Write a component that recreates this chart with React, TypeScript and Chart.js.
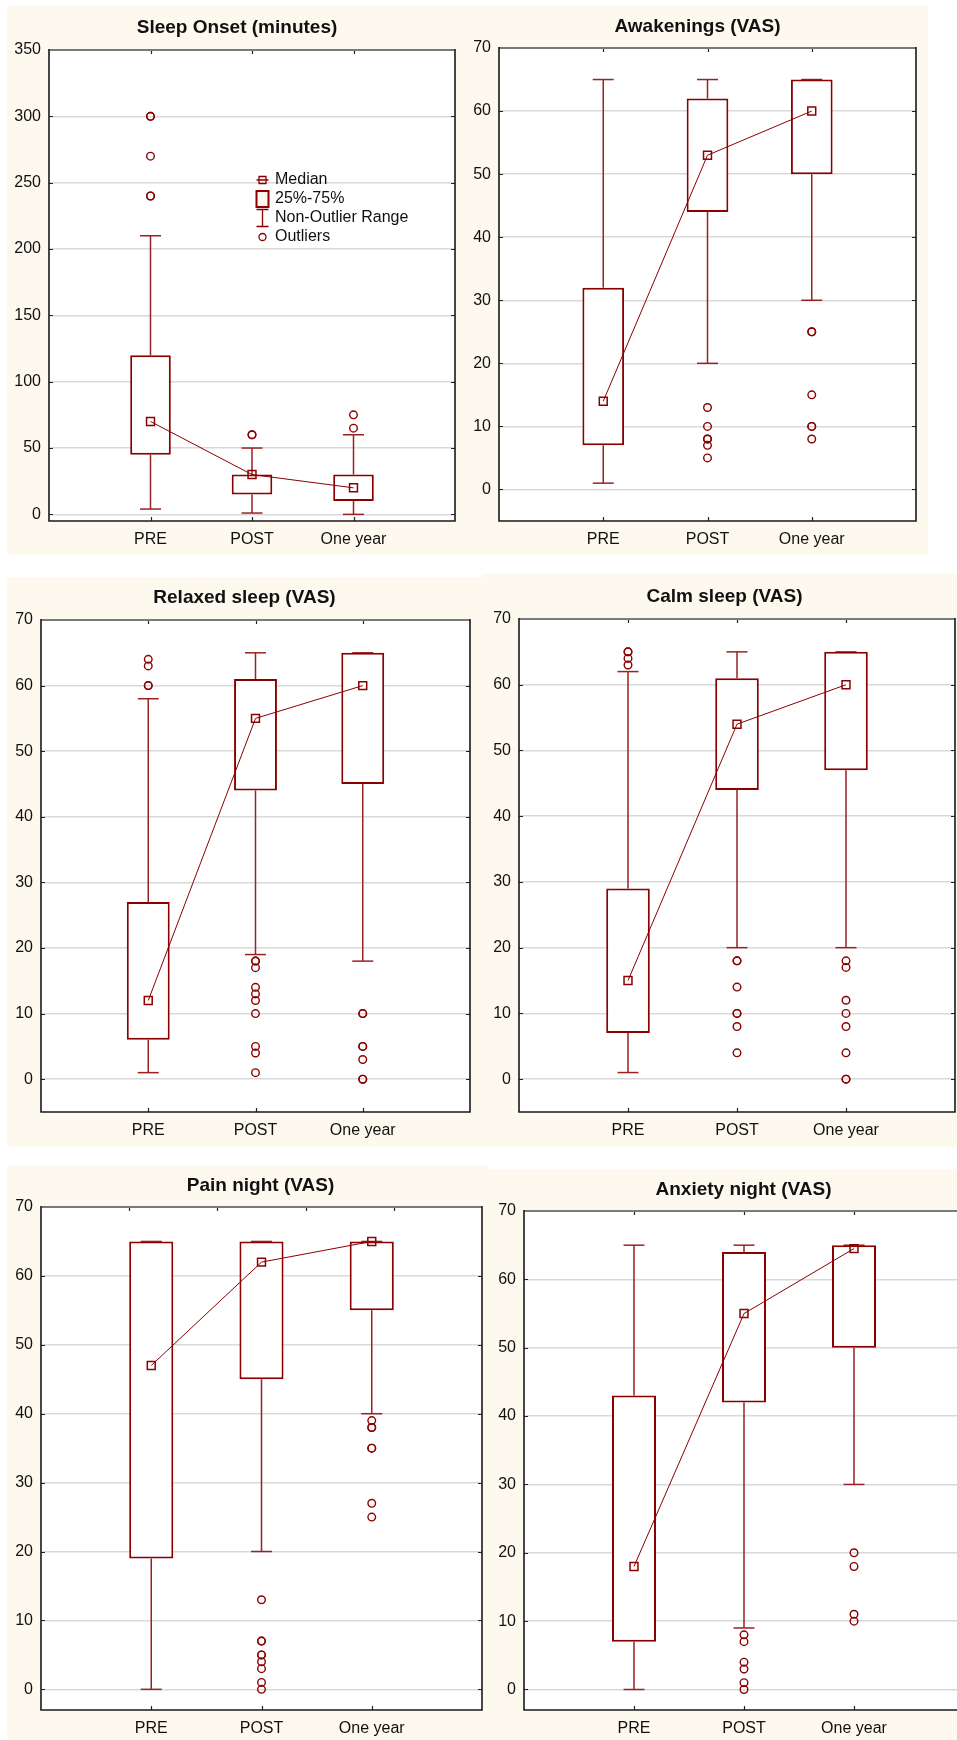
import React, { useEffect, useRef } from 'react';
import { Chart, registerables } from 'chart.js';

Chart.register(...registerables);

const FONT = "'Liberation Sans', Arial, Helvetica, sans-serif";
const DARK_RED = '#8b0000';
const WHISKER = '#9b2222';
const BEIGE = '#fef9ee';

// ---------- data ----------
const categories = ['PRE', 'POST', 'One year'];
const legendLabels = ['Median', '25%-75%', 'Non-Outlier Range', 'Outliers'];

const onsetTicks = [0, 50, 100, 150, 200, 250, 300, 350];
const vasTicks = [0, 10, 20, 30, 40, 50, 60, 70];

// Sleep Onset (minutes)
const onsetLow = [4, 1, 0];
const onsetQ1 = [45, 15, 10];
const onsetMedian = [70, 30, 20];
const onsetQ3 = [120, 30, 30];
const onsetHigh = [210, 50, 60];
const onsetOutliers = [[300, 300, 270, 240, 240], [60, 60], [75, 65]];

// Awakenings (VAS)
const awakeLow = [1, 20, 30];
const awakeQ1 = [7, 44, 50];
const awakeMedian = [14, 53, 60];
const awakeQ3 = [32, 62, 65];
const awakeHigh = [65, 65, 65];
const awakeOutliers = [[], [13, 10, 8, 8, 7, 5], [25, 25, 15, 10, 10, 8]];

// Relaxed sleep (VAS)
const relaxLow = [1, 19, 18];
const relaxQ1 = [6, 44, 45];
const relaxMedian = [12, 55, 60];
const relaxQ3 = [27, 61, 65];
const relaxHigh = [58, 65, 65];
const relaxOutliers = [[64, 63, 60, 60], [18, 18, 17, 14, 13, 12, 10, 5, 4, 1], [10, 10, 5, 5, 3, 0, 0]];

// Calm sleep (VAS)
const calmLow = [1, 20, 20];
const calmQ1 = [7, 44, 47];
const calmMedian = [15, 54, 60];
const calmQ3 = [29, 61, 65];
const calmHigh = [62, 65, 65];
const calmOutliers = [[65, 65, 64, 63], [18, 18, 14, 10, 10, 8, 4], [18, 17, 12, 10, 8, 4, 0, 0]];

// Pain night (VAS)
const painLow = [0, 20, 40];
const painQ1 = [19, 45, 55];
const painMedian = [47, 62, 65];
const painQ3 = [65, 65, 65];
const painHigh = [65, 65, 65];
const painOutliers = [[], [13, 7, 7, 5, 5, 4, 3, 1, 0], [39, 38, 38, 35, 35, 27, 25]];

// Anxiety night (VAS)
const anxLow = [0, 9, 30];
const anxQ1 = [7, 42, 50];
const anxMedian = [18, 55, 64.5];
const anxQ3 = [43, 64, 65];
const anxHigh = [65, 65, 65];
const anxOutliers = [[], [8, 7, 4, 3, 1, 0], [20, 18, 11, 10]];

// ---------- panel layout ----------
type Panel = {
  title: string;
  lo: number[]; q1: number[]; med: number[]; q3: number[]; hi: number[]; out: number[][];
  yMin: number; yMax: number; yTicks: number[];
  frame: { left: number; top: number; width: number; height: number; beigeWidth?: number };
  area: { left: number; top: number; right: number; bottom: number };
  titleY: number;
  legend?: boolean;
  topTicks?: number[];
};

const panels: Panel[] = [
  {
    title: 'Sleep Onset (minutes)', lo: onsetLow, q1: onsetQ1, med: onsetMedian, q3: onsetQ3, hi: onsetHigh, out: onsetOutliers,
    yMin: -5, yMax: 350, yTicks: onsetTicks,
    frame: { left: 7, top: 6, width: 460, height: 549 },
    area: { left: 42, top: 44, right: 451, bottom: 515 }, titleY: 22, legend: true,
  },
  {
    title: 'Awakenings (VAS)', lo: awakeLow, q1: awakeQ1, med: awakeMedian, q3: awakeQ3, hi: awakeHigh, out: awakeOutliers,
    yMin: -5, yMax: 70, yTicks: vasTicks,
    frame: { left: 467, top: 5, width: 461, height: 550 },
    area: { left: 32, top: 43, right: 454, bottom: 516 }, titleY: 22,
  },
  {
    title: 'Relaxed sleep (VAS)', lo: relaxLow, q1: relaxQ1, med: relaxMedian, q3: relaxQ3, hi: relaxHigh, out: relaxOutliers,
    yMin: -5, yMax: 70, yTicks: vasTicks,
    frame: { left: 7, top: 577, width: 475, height: 570 },
    area: { left: 34, top: 43, right: 469, bottom: 535 }, titleY: 21,
  },
  {
    title: 'Calm sleep (VAS)', lo: calmLow, q1: calmQ1, med: calmMedian, q3: calmQ3, hi: calmHigh, out: calmOutliers,
    yMin: -5, yMax: 70, yTicks: vasTicks,
    frame: { left: 482, top: 574, width: 485, height: 573 },
    area: { left: 37, top: 45, right: 474, bottom: 538 }, titleY: 23,
  },
  {
    title: 'Pain night (VAS)', lo: painLow, q1: painQ1, med: painMedian, q3: painQ3, hi: painHigh, out: painOutliers,
    yMin: -3, yMax: 70, yTicks: vasTicks,
    frame: { left: 7, top: 1165, width: 507, height: 575, beigeWidth: 481 },
    area: { left: 34, top: 42, right: 475, bottom: 545 }, titleY: 21,
    topTicks: [0.8, 1.6, 2.4, 3.2],
  },
  {
    title: 'Anxiety night (VAS)', lo: anxLow, q1: anxQ1, med: anxMedian, q3: anxQ3, hi: anxHigh, out: anxOutliers,
    yMin: -3, yMax: 70, yTicks: vasTicks,
    frame: { left: 488, top: 1169, width: 511, height: 571 },
    area: { left: 36, top: 42, right: 476, bottom: 541 }, titleY: 21,
  },
];

function BoxPanel({ p }: { p: Panel }) {
  const ref = useRef<HTMLCanvasElement>(null);

  useEffect(() => {
    const canvas = ref.current;
    if (!canvas) return;
    const W = p.frame.width;
    const H = p.frame.height;
    const { left: L, top: T, right: R, bottom: B } = p.area;
    const titleSize = 19;
    const titleLine = titleSize * 1.2;
    const padTop = p.titleY - titleLine / 2;
    const padBottom = T - p.titleY - titleLine / 2;

    const xs = categories.map((_, i) => i + 1);
    const boxData = xs.map((x, i) => ({ x, y: [p.q1[i], p.q3[i]] }));
    const whiskerData: any[] = [];
    xs.forEach((x, i) => {
      whiskerData.push({ x, y: p.hi[i] }, { x, y: p.q3[i] }, { x, y: null });
      whiskerData.push({ x, y: p.q1[i] }, { x, y: p.lo[i] }, { x, y: null });
    });
    const capData = xs.flatMap((x, i) => [{ x, y: p.hi[i] }, { x, y: p.lo[i] }]);
    const medData = xs.map((x, i) => ({ x, y: p.med[i] }));
    const outData = xs.flatMap((x, i) => p.out[i].map((y) => ({ x, y })));

    const panelPlugin = {
      id: 'panelDecor',
      beforeDraw(chart: any) {
        const { ctx, chartArea: a } = chart;
        ctx.save();
        ctx.fillStyle = '#ffffff';
        ctx.fillRect(a.left, a.top, a.right - a.left, a.bottom - a.top);
        ctx.restore();
      },
      afterDatasetsDraw(chart: any) {
        const { ctx, chartArea: a, scales } = chart;
        ctx.save();
        // tick marks
        ctx.strokeStyle = '#222';
        ctx.lineWidth = 1.2;
        ctx.beginPath();
        p.yTicks.forEach((v) => {
          const y = Math.round(scales.y.getPixelForValue(v)) + 0.5;
          ctx.moveTo(a.left, y); ctx.lineTo(a.left + 4, y);
          ctx.moveTo(a.right, y); ctx.lineTo(a.right - 4, y);
        });
        xs.forEach((v) => {
          const x = Math.round(scales.x.getPixelForValue(v)) + 0.5;
          ctx.moveTo(x, a.bottom); ctx.lineTo(x, a.bottom - 4);
        });
        (p.topTicks || xs).forEach((v) => {
          const x = Math.round(scales.x.getPixelForValue(v)) + 0.5;
          ctx.moveTo(x, a.top); ctx.lineTo(x, a.top + 4);
        });
        ctx.stroke();
        // frame
        ctx.strokeStyle = '#7a7a7a';
        ctx.lineWidth = 2;
        ctx.beginPath();
        ctx.moveTo(a.left, a.top); ctx.lineTo(a.right, a.top);
        ctx.stroke();
        ctx.strokeStyle = '#1a1a1a';
        ctx.lineWidth = 1.6;
        ctx.beginPath();
        ctx.moveTo(a.left, a.top - 1); ctx.lineTo(a.left, a.bottom);
        ctx.lineTo(a.right, a.bottom); ctx.lineTo(a.right, a.top - 1);
        ctx.stroke();

        if (p.legend) {
          const sx = a.left + 213.5;
          const tx = a.left + 226;
          const y0 = a.top + 130;
          const dy = 19;
          ctx.font = `16px ${FONT}`;
          ctx.fillStyle = '#111';
          ctx.textBaseline = 'middle';
          ctx.textAlign = 'left';
          legendLabels.forEach((lab, i) => ctx.fillText(lab, tx, y0 + i * dy));
          ctx.strokeStyle = DARK_RED;
          // median symbol
          ctx.lineWidth = 1.3;
          ctx.beginPath();
          ctx.moveTo(sx - 6, y0); ctx.lineTo(sx + 6, y0);
          ctx.rect(sx - 3.5, y0 - 3.5, 7, 7);
          ctx.stroke();
          // box symbol
          ctx.lineWidth = 2;
          ctx.fillStyle = BEIGE;
          ctx.fillRect(sx - 6, y0 + dy - 8, 12, 16);
          ctx.strokeRect(sx - 6, y0 + dy - 8, 12, 16);
          // whisker symbol
          ctx.lineWidth = 1.3;
          ctx.beginPath();
          const wy = y0 + 2 * dy;
          ctx.moveTo(sx, wy - 8.5); ctx.lineTo(sx, wy + 8.5);
          ctx.moveTo(sx - 6, wy - 8.5); ctx.lineTo(sx + 6, wy - 8.5);
          ctx.moveTo(sx - 6, wy + 8.5); ctx.lineTo(sx + 6, wy + 8.5);
          ctx.stroke();
          // outlier symbol
          ctx.beginPath();
          ctx.arc(sx, y0 + 3 * dy, 3.5, 0, Math.PI * 2);
          ctx.stroke();
        }
        ctx.restore();
      },
    };

    const chart = new Chart(canvas, {
      type: 'bar',
      data: {
        datasets: [
          {
            type: 'line',
            label: 'Median',
            data: medData,
            borderColor: DARK_RED,
            borderWidth: 1,
            pointStyle: 'rect',
            pointRadius: 5.6,
            pointBorderWidth: 1.5,
            pointBorderColor: DARK_RED,
            pointBackgroundColor: 'rgba(0,0,0,0)',
            fill: false,
            tension: 0,
          } as any,
          {
            type: 'line',
            label: 'Outliers',
            data: outData,
            showLine: false,
            pointStyle: 'circle',
            pointRadius: 3.8,
            pointBorderWidth: 1.4,
            pointBorderColor: DARK_RED,
            pointBackgroundColor: 'rgba(0,0,0,0)',
          } as any,
          {
            type: 'bar',
            label: '25%-75%',
            data: boxData,
            backgroundColor: '#ffffff',
            borderColor: DARK_RED,
            borderWidth: 2,
            borderSkipped: false,
            barPercentage: 0.4,
            categoryPercentage: 1,
          } as any,
          {
            type: 'line',
            label: 'Caps',
            data: capData,
            showLine: false,
            pointStyle: 'line',
            pointRadius: 10.5,
            pointBorderWidth: 1.5,
            pointBorderColor: WHISKER,
          } as any,
          {
            type: 'line',
            label: 'Non-Outlier Range',
            data: whiskerData,
            borderColor: WHISKER,
            borderWidth: 1.5,
            pointRadius: 0,
            spanGaps: false,
            fill: false,
          } as any,
        ],
      },
      options: {
        animation: false,
        responsive: false,
        maintainAspectRatio: false,
        devicePixelRatio: 1,
        events: [],
        layout: { padding: 0 },
        plugins: {
          legend: { display: false },
          tooltip: { enabled: false },
          title: {
            display: true,
            text: p.title,
            color: '#111',
            font: { family: FONT, size: titleSize, weight: 'bold', lineHeight: 1.2 },
            padding: { top: padTop, bottom: padBottom },
          },
        },
        scales: {
          x: {
            type: 'linear',
            position: 'bottom',
            min: 0,
            max: 4,
            offset: false,
            grid: { display: false, drawTicks: false },
            border: { display: false },
            afterBuildTicks: (s: any) => { s.ticks = xs.map((v) => ({ value: v })); },
            afterFit: (s: any) => { s.height = H - B; },
            ticks: {
              autoSkip: false,
              maxRotation: 0,
              padding: 8.5,
              color: '#111',
              font: { family: FONT, size: 16 },
              callback: (v: any) => categories[Number(v) - 1] ?? '',
            },
          },
          y: {
            type: 'linear',
            position: 'left',
            min: p.yMin,
            max: p.yMax,
            grid: { color: '#d9d9d9', lineWidth: 1.5, drawTicks: false },
            border: { display: false },
            afterBuildTicks: (s: any) => { s.ticks = p.yTicks.map((v) => ({ value: v })); },
            afterFit: (s: any) => { s.width = L; },
            ticks: {
              padding: 8,
              color: '#111',
              font: { family: FONT, size: 16 },
            },
          },
          yR: {
            type: 'linear',
            position: 'right',
            display: true,
            grid: { display: false, drawTicks: false },
            border: { display: false },
            ticks: { display: false },
            afterFit: (s: any) => { s.width = W - R; },
          },
        },
      } as any,
      plugins: [panelPlugin],
    });
    return () => chart.destroy();
  }, [p]);

  const bw = p.frame.beigeWidth;
  return (
    <canvas
      ref={ref}
      width={p.frame.width}
      height={p.frame.height}
      style={{
        position: 'absolute',
        left: p.frame.left,
        top: p.frame.top,
        width: p.frame.width,
        height: p.frame.height,
        background: bw ? `linear-gradient(to right, ${BEIGE} ${bw}px, rgba(255,255,255,0) ${bw}px)` : BEIGE,
      }}
    />
  );
}

export default function App() {
  return (
    <div
      style={{
        position: 'absolute',
        left: 0,
        top: 0,
        width: 957,
        height: 1740,
        overflow: 'hidden',
        background: '#ffffff',
      }}
    >
      {panels.map((p) => (
        <BoxPanel key={p.title} p={p} />
      ))}
    </div>
  );
}
